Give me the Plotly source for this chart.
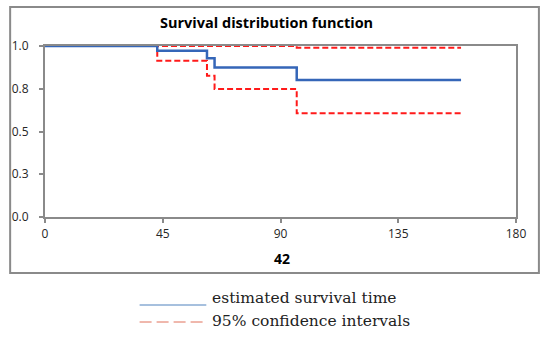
import plotly.graph_objects as go

# Kaplan-Meier estimate and 95% CI (step functions)
time_est = [0, 42.9, 61.9, 64.8, 96.2, 159]
surv_est = [1.0, 0.972, 0.928, 0.875, 0.801, 0.801]

time_upper = [0, 96.2, 159]
surv_upper = [1.0, 0.99, 0.99]

time_lower = [0, 42.9, 61.9, 64.8, 96.2, 159]
surv_lower = [1.0, 0.914, 0.826, 0.749, 0.606, 0.606]

x_ticks = [0, 45, 90, 135, 180]
y_ticks = [0, 0.25, 0.5, 0.75, 1.0]
y_tick_labels = ["0.0", "0.3", "0.5", "0.8", "1.0"]

title_text = "Survival distribution function"
x_title = "42"
legend_labels = ["estimated survival time", "95% confidence intervals"]

fig = go.Figure()
fig.add_trace(go.Scatter(x=time_upper, y=surv_upper, mode="lines", line_shape="hv",
                         line=dict(color="#ff1a1a", width=2, dash="6px,3px"), showlegend=False))
fig.add_trace(go.Scatter(x=time_lower, y=surv_lower, mode="lines", line_shape="hv",
                         line=dict(color="#ff1a1a", width=2, dash="6px,3px"), showlegend=False))
fig.add_trace(go.Scatter(x=time_est, y=surv_est, mode="lines", line_shape="hv",
                         line=dict(color="#3566b8", width=2.5), showlegend=False))

axis_col = "#8a8a8a"
tick_font = dict(family="Open Sans, sans-serif", size=12, color="#262626")
fig.update_xaxes(range=[0, 180], tickvals=x_ticks, ticks="outside", ticklen=4, tickwidth=1.5,
                 tickcolor=axis_col, showline=True, linecolor=axis_col, linewidth=2, mirror=True,
                 showgrid=False, zeroline=False, tickfont=tick_font, ticklabelstandoff=1)
fig.update_yaxes(range=[0, 1], tickvals=y_ticks, ticktext=y_tick_labels, ticks="outside", ticklen=4,
                 tickwidth=1.5, tickcolor=axis_col, showline=True, linecolor=axis_col, linewidth=2,
                 mirror=True, showgrid=False, zeroline=False, tickfont=tick_font,
                 ticklabelstandoff=8)

W, H = 550, 339
L, R, T, B = 43, 516, 46, 217
def px(x):
    return (x - L) / (R - L)
def py(y):
    return (B - y) / (B - T)

shapes = [
    dict(type="rect", xref="paper", yref="paper", x0=px(8), x1=px(539), y0=py(273), y1=py(7),
         line=dict(color="#8a8a8a", width=2), layer="below"),
    dict(type="line", xref="paper", yref="paper", x0=px(138), x1=px(205), y0=py(305), y1=py(305),
         line=dict(color="#4f81bd", width=1)),
    dict(type="line", xref="paper", yref="paper", x0=px(138), x1=px(205), y0=py(322), y1=py(322),
         line=dict(color="#e0705a", width=1, dash="12px,5px")),
]

annotations = [
    dict(text="<b>%s</b>" % title_text, xref="paper", yref="paper", x=px(265), y=py(23),
         showarrow=False, font=dict(family="Open Sans, sans-serif", size=14.5, color="#000"),
         xanchor="center", yanchor="middle"),
    dict(text="<b>%s</b>" % x_title, xref="paper", yref="paper", x=px(281), y=py(258),
         showarrow=False, font=dict(family="Open Sans, sans-serif", size=14, color="#000"),
         xanchor="center", yanchor="middle"),
    dict(text=legend_labels[0], xref="paper", yref="paper", x=px(209), y=py(298),
         showarrow=False, font=dict(family="DejaVu Serif, serif", size=15.5, color="#222"),
         xanchor="left", yanchor="middle"),
    dict(text=legend_labels[1], xref="paper", yref="paper", x=px(209), y=py(321),
         showarrow=False, font=dict(family="DejaVu Serif, serif", size=15.5, color="#222"),
         xanchor="left", yanchor="middle"),
]

fig.update_layout(width=W, height=H, margin=dict(l=L, r=W - R, t=T, b=H - B),
                  plot_bgcolor="white", paper_bgcolor="white", shapes=shapes,
                  annotations=annotations, showlegend=False)

fig.write_html("out.html", config={"displayModeBar": False},
               post_script="document.body.style.margin='0';")
